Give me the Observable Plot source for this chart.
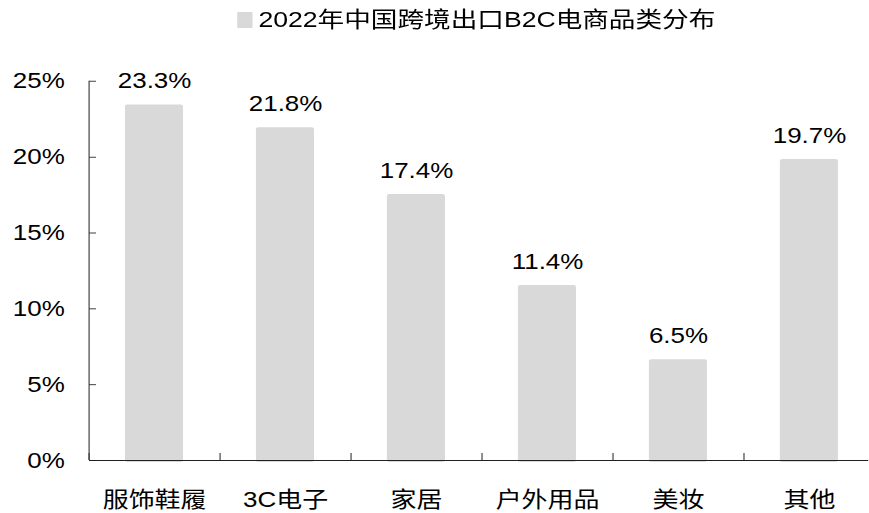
<!DOCTYPE html>
<html>
<head>
<meta charset="utf-8">
<script src="https://cdn.jsdelivr.net/npm/d3@7"></script>
<script src="https://cdn.jsdelivr.net/npm/@observablehq/plot@0.6"></script>
<style>
  html, body { margin: 0; padding: 0; background: #fff; overflow: hidden; }
  #wrap { transform: scaleX(1.18); transform-origin: 0 0; width: 736px; font-family: "Liberation Sans", "Noto Sans CJK SC", sans-serif; font-weight: 400; color: #000; }
  #legend { position: relative; height: 40px; }
  #legend .sw { position: absolute; left: 200.8px; top: 12px; width: 13.5px; height: 16px; background: #d9d9d9; border-radius: 1px; }
  #legend .lt { position: absolute; left: 218.6px; top: 0; line-height: 40px; font-size: 22px; white-space: nowrap; transform: scaleX(1.025); transform-origin: 0 0; }
  #chart svg text { font-weight: 400; }
</style>
</head>
<body>
<div id="wrap">
  <div id="legend"><span class="sw"></span><span class="lt">2022年中国跨境出口B2C电商品类分布</span></div>
  <div id="chart"></div>
</div>
<script>
const categories = ["服饰鞋履", "3C电子", "家居", "户外用品", "美妆", "其他"];
const values = [23.3, 21.8, 17.4, 11.4, 6.5, 19.7];
const yTicks = [0, 5, 10, 15, 20, 25];

const data = categories.map((c, i) => ({cat: c, v: values[i]}));

const W = 736, H = 473;
const xRange = [75.4, 741.4];
const step = (xRange[1] - xRange[0]) / categories.length;
const barWidth = 49.2;
const inset = (step - barWidth) / 2;
const font = '"Liberation Sans", "Noto Sans CJK SC", sans-serif';

const chart = Plot.plot({
  width: W,
  height: H,
  marginLeft: 75.4,
  marginRight: 0,
  marginTop: 42,
  marginBottom: 53,
  style: {fontFamily: font, fontSize: "22px", fontWeight: 400, color: "#000", background: "white"},
  x: {domain: categories, range: xRange, padding: 0, axis: null, label: null},
  y: {domain: [0, 25], range: [420, 40.8], axis: null, label: null},
  marks: [
    Plot.barY(data, {x: "cat", y: "v", fill: "#d9d9d9", insetLeft: inset, insetRight: inset, insetTop: -2.2, insetBottom: -2, rx: 2}),
    Plot.axisY(yTicks, {tickSize: 0, tickPadding: 21, tickFormat: d => d + "%", fontSize: 22, fill: "#000", label: null}),
    Plot.axisY(yTicks, {tickSize: 6, dx: 6, tickFormat: () => "", stroke: "#404040", label: null}),
    Plot.axisX(categories, {tickSize: 0, tickPadding: 31, fontSize: 22, fill: "#000", label: null}),
    Plot.axisX(categories, {tickSize: 7, dx: -step / 2, dy: -7, tickFormat: () => "", stroke: "#404040", label: null}),
    Plot.ruleX([categories[0]], {y1: 0, y2: 25, dx: -step / 2, stroke: "#404040"}),
    Plot.ruleY([0], {stroke: "#202020"}),
    Plot.text(data, {x: "cat", y: "v", text: d => d.v.toFixed(1) + "%", dy: -26, fontSize: 22, fill: "#000"})
  ]
});
document.getElementById("chart").appendChild(chart);
</script>
</body>
</html>
